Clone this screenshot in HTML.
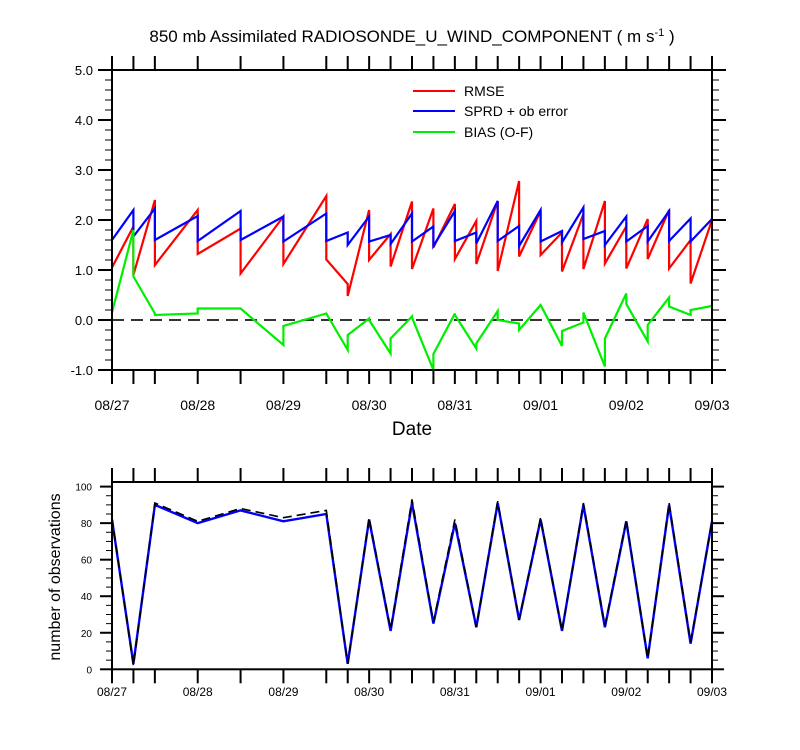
<!DOCTYPE html>
<html><head><meta charset="utf-8"><style>
html,body{margin:0;padding:0;background:#fff}
svg{display:block;font-family:"Liberation Sans",sans-serif}
</style></head><body>
<svg id="c" width="800" height="750" viewBox="0 0 800 750">
<text x="412" y="42" text-anchor="middle" font-size="17">850 mb Assimilated RADIOSONDE_U_WIND_COMPONENT ( m s<tspan dy="-6" font-size="11">-1</tspan><tspan dy="6"> )</tspan></text>
<g id="topPanel"></g>
<g id="botPanel"></g>
<text x="412" y="435" text-anchor="middle" font-size="19">Date</text>
<text transform="translate(60,577) rotate(-90)" text-anchor="middle" font-size="16">number of observations</text>
<g>
<line x1="413" y1="91" x2="455" y2="91" stroke="#f00" stroke-width="2"/>
<text x="464" y="96" font-size="14">RMSE</text>
<line x1="413" y1="111" x2="455" y2="111" stroke="#00f" stroke-width="2"/>
<text x="464" y="116" font-size="14">SPRD + ob error</text>
<line x1="413" y1="132" x2="455" y2="132" stroke="#0e0" stroke-width="2"/>
<text x="464" y="137" font-size="14">BIAS (O-F)</text>
</g>
</svg>
<script>
// hours since 08/27 00Z
const times=[0,6,12,24,36,48,60,66,72,78,84,90,96,102,108,114,120,126,132,138,144,150,156,162,168];
const dateLabels=["08/27","08/28","08/29","08/30","08/31","09/01","09/02","09/03"];
const rmsePrior=[1.05,1.87,2.4,2.2,1.83,2.07,2.48,0.72,2.2,1.72,2.37,2.23,2.32,1.98,2.38,2.78,2.18,1.75,2.12,2.38,1.87,2.02,2.2,1.6,2.0];
const rmsePost=[1.05,0.9,1.1,1.32,0.93,1.12,1.21,0.48,1.2,1.07,1.02,1.45,1.22,1.12,0.98,1.27,1.3,0.97,1.02,1.13,1.03,1.22,1.03,0.73,2.0];
const sprdPrior=[1.6,2.2,2.23,2.08,2.18,2.07,2.13,1.75,2.07,1.7,2.13,1.87,2.18,1.75,2.38,1.88,2.2,1.78,2.25,1.78,2.07,1.88,2.18,2.03,2.02];
const sprdPost=[1.6,1.67,1.6,1.58,1.6,1.57,1.58,1.5,1.57,1.52,1.57,1.48,1.58,1.53,1.58,1.48,1.57,1.55,1.62,1.5,1.57,1.57,1.58,1.57,2.02];
const biasPrior=[0.15,1.8,0.13,0.13,0.23,-0.5,0.13,-0.6,0.03,-0.67,0.07,-1.0,0.13,-0.57,0.18,-0.07,0.3,-0.52,-0.05,-0.93,0.53,-0.43,0.45,0.1,0.28];
const biasPost=[0.15,0.87,0.1,0.23,0.23,-0.12,0.13,-0.3,0.0,-0.37,0.05,-0.68,0.1,-0.47,0.0,-0.2,0.3,-0.22,0.15,-0.37,0.32,-0.1,0.27,0.2,0.28];
const obsUsed=[82,3,90,80,87,81,85,3,82,21,91,25,80,23,91,27,82,21,90,23,81,6,90,14,81];
const obsPossible=[83,2,91,81,88,83,87,3,83,22,93,26,82,23,92,27,83,21,91,24,82,6,91,15,81];
const topYTicks=[-1,0,1,2,3,4,5];
const botYTicks=[0,20,40,60,80,100];

const NS="http://www.w3.org/2000/svg";
const X0=112,X1=712;
const xS=h=>X0+(X1-X0)*h/168;
const yT=v=>320-50*v;
const yB=v=>669.3-1.827*v;
function mk(p,tag,at){const e=document.createElementNS(NS,tag);for(const k in at)e.setAttribute(k,at[k]);p.appendChild(e);return e;}
const topG=document.getElementById('topPanel'),botG=document.getElementById('botPanel');

function frame(g,ya,yb,name){
  const r=mk(g,'rect',{x:X0,y:ya,width:X1-X0,height:yb-ya,fill:'none',stroke:'#000','stroke-width':2});
  
  
}
function xTicks(g,ya,yb,fs,ly,name){
  times.forEach(t=>{
    const x=xS(t);
    const a=mk(g,'line',{x1:x,y1:ya,x2:x,y2:ya-14,stroke:'#000','stroke-width':2});
    
    
    const b=mk(g,'line',{x1:x,y1:yb,x2:x,y2:yb+14,stroke:'#000','stroke-width':2});
    
    
  });
  dateLabels.forEach((d,i)=>{
    const t=mk(g,'text',{x:xS(i*24),y:ly,'text-anchor':'middle','font-size':fs});
    t.textContent=d;
    
    
  });
}
function path(g,pts,color,name,dash,w){
  const p=mk(g,'path',{d:'M'+pts.map(q=>q[0].toFixed(1)+','+q[1].toFixed(1)).join('L'),fill:'none',stroke:color,'stroke-width':w||2.2,'stroke-linejoin':'miter'});
  if(dash)p.setAttribute('stroke-dasharray',dash);
  
  
}
function pairPts(pr,po){const a=[];times.forEach((t,i)=>{a.push([xS(t),yT(pr[i])]);a.push([xS(t),yT(po[i])]);});return a;}

// TOP PANEL
const TA=70,TB=370;
for(let k=0;k<=30;k++){
  const v=-1+k*0.2;
  const y=yT(v);const maj=k%5==0;const L=maj?14:7;
  [[X0,-1],[X1,1]].forEach(([x,s])=>{
    const l=mk(topG,'line',{x1:x,y1:y,x2:x+s*L,y2:y,stroke:'#000','stroke-width':maj?2:1});
    
    
  });
}
topYTicks.forEach(v=>{
  const t=mk(topG,'text',{x:93,y:yT(v)+5,'text-anchor':'end','font-size':13});
  t.textContent=v.toFixed(1);
  
  
});
const zl=mk(topG,'line',{x1:X0,y1:yT(0),x2:X1,y2:yT(0),stroke:'#333','stroke-width':2,'stroke-dasharray':'12,7'});


path(topG,pairPts(rmsePrior,rmsePost),'#f00','rmse-line');
path(topG,pairPts(sprdPrior,sprdPost),'#00f','sprd-line');
path(topG,pairPts(biasPrior,biasPost),'#0e0','bias-line');
frame(topG,TA,TB,'top');
xTicks(topG,TA,TB,14,410,'top');

// BOTTOM PANEL
const BA=482,BB=669.3;
for(let v=0;v<=100;v+=5){
  const y=yB(v);const maj=v%20==0;const L=maj?12:6;
  [[X0,-1],[X1,1]].forEach(([x,s])=>{
    const l=mk(botG,'line',{x1:x,y1:y,x2:x+s*L,y2:y,stroke:'#000','stroke-width':maj?2:1});
    
    
  });
}
botYTicks.forEach(v=>{
  const t=mk(botG,'text',{x:92,y:yB(v)+4,'text-anchor':'end','font-size':10});
  t.textContent=v;
  
  
});
path(botG,times.map((t,i)=>[xS(t),yB(obsUsed[i])]),'#00f','obs-used-line',null,2.4);
path(botG,times.map((t,i)=>[xS(t),yB(obsPossible[i])]),'#000','obs-possible-line','9,5',1.6);
frame(botG,BA,BB,'bottom');
xTicks(botG,BA,BB,12,696,'bottom');
</script>
</body></html>
